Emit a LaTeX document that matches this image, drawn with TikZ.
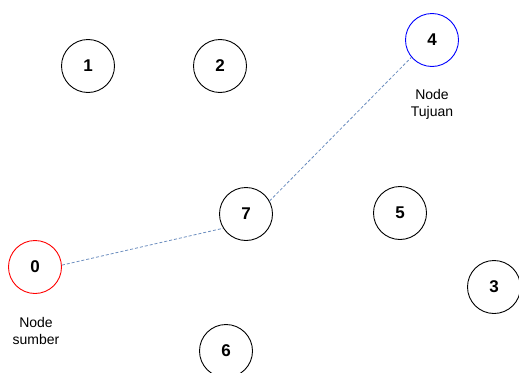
\documentclass[tikz,border=0pt]{standalone}
\usepackage{fontspec}
\setmainfont{Liberation Sans}
\begin{document}
\begin{tikzpicture}[x=1pt,y=-1pt,
  vtx/.style={circle,draw=black,line width=0.9pt,minimum size=53pt,inner sep=0pt,font=\fontsize{17}{20}\selectfont\bfseries},
  lbl/.style={align=center,font=\fontsize{14}{17}\selectfont,inner sep=0pt},
  path/.style={draw={rgb,255:red,108;green,142;blue,191},line width=0.8pt,dash pattern=on 3pt off 2pt}]
\useasboundingbox (0,0) rectangle (519,372);
\node[vtx] (n1) at (88,66) {1};
\node[vtx] (n2) at (220,66) {2};
\node[vtx,draw=blue] (n4) at (432,40) {4};
\node[vtx] (n7) at (246,214) {7};
\node[vtx] (n5) at (400,213) {5};
\node[vtx,draw=red] (n0) at (35,267) {0};
\node[vtx] (n3) at (494,287) {3};
\node[vtx] (n6) at (226,351) {6};
\node[lbl] (t4) at (432,104) {Node\\Tujuan};
\node[lbl] (t0) at (36,331) {Node\\sumber};
\draw[path] (n0.4) -- (n7.212);
\draw[path] (n7.29) -- (n4.220);
\end{tikzpicture}
\end{document}
